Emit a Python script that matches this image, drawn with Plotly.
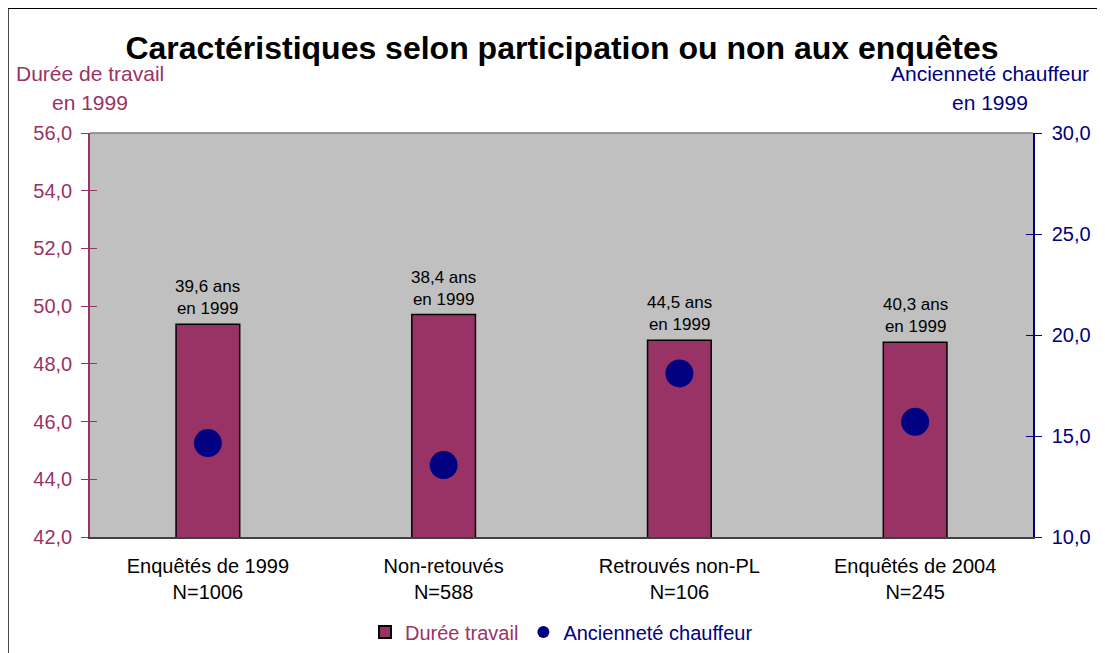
import plotly.graph_objects as go

categories = ["Enquêtés de 1999<br>N=1006", "Non-retouvés<br>N=588", "Retrouvés non-PL<br>N=106", "Enquêtés de 2004<br>N=245"]
duree_travail = [49.37, 49.71, 48.82, 48.75]
anciennete = [14.65, 13.56, 18.1, 15.7]
age_labels = ["39,6 ans<br>en 1999", "38,4 ans<br>en 1999", "44,5 ans<br>en 1999", "40,3 ans<br>en 1999"]

MAROON = "#993366"
NAVY = "#000080"
FONT = "Liberation Sans, Arial, sans-serif"

fig = go.Figure()
fig.add_trace(go.Bar(
    x=categories, y=duree_travail, width=0.27,
    marker=dict(color=MAROON, line=dict(color="black", width=1.5)),
    name=f"<span style='color:{MAROON}'>Durée travail</span>",
    yaxis="y",
))
fig.add_trace(go.Scatter(
    x=categories, y=anciennete, mode="markers",
    marker=dict(color=NAVY, size=28),
    name=f"<span style='color:{NAVY}'>Ancienneté chauffeur</span>",
    yaxis="y2",
))
# invisible helper traces so the inner-tick overlay axes are drawn
fig.add_trace(go.Scatter(x=categories, y=duree_travail, yaxis="y3", mode="none",
                         showlegend=False, hoverinfo="skip"))
fig.add_trace(go.Scatter(x=categories, y=anciennete, yaxis="y4", mode="none",
                         showlegend=False, hoverinfo="skip"))

for c, v, t in zip(categories, duree_travail, age_labels):
    fig.add_annotation(x=c, y=v, xref="x", yref="y", text=t, showarrow=False,
                       yanchor="bottom", yshift=4, font=dict(size=17, color="black", family=FONT))

# axis titles
fig.add_annotation(x=0, y=1.1485, xref="paper", yref="paper", text="Durée de travail", showarrow=False,
                   xanchor="center", yanchor="middle", font=dict(size=21, color=MAROON, family=FONT))
fig.add_annotation(x=0, y=1.0767, xref="paper", yref="paper", text="en 1999", showarrow=False,
                   xanchor="center", yanchor="middle", font=dict(size=21, color=MAROON, family=FONT))
fig.add_annotation(x=0.954, y=1.1485, xref="paper", yref="paper", text="Ancienneté chauffeur", showarrow=False,
                   xanchor="center", yanchor="middle", font=dict(size=21, color=NAVY, family=FONT))
fig.add_annotation(x=0.954, y=1.0767, xref="paper", yref="paper", text="en 1999", showarrow=False,
                   xanchor="center", yanchor="middle", font=dict(size=21, color=NAVY, family=FONT))

# outer chart border and plot-area top edge
fig.add_shape(type="rect", xref="paper", yref="paper", x0=-0.087, y0=-0.4, x1=1.2, y1=1.309,
              line=dict(color="black", width=1.5), layer="above")
fig.add_shape(type="line", xref="paper", yref="paper", x0=0, y0=1, x1=1, y1=1,
              line=dict(color="#808080", width=1.5))

fig.update_layout(
    width=1097, height=645,
    margin=dict(l=82, r=72, t=125, b=116, autoexpand=False),
    paper_bgcolor="white", plot_bgcolor="#C0C0C0",
    separators=", ",
    font=dict(family=FONT, color="black"),
    title=dict(text="<b>Caractéristiques selon participation ou non aux enquêtes</b>",
               x=0.505, xanchor="center", y=0.938, yanchor="middle",
               font=dict(size=32, color="black", family=FONT)),
    showlegend=True,
    legend=dict(orientation="h", x=0.5, xanchor="center", y=-0.235, yanchor="middle",
                font=dict(size=20, family=FONT), bgcolor="rgba(0,0,0,0)",
                itemwidth=30, tracegroupgap=0, itemsizing="constant"),
    xaxis=dict(showgrid=False, showline=True, linecolor="#404040", linewidth=1.5, automargin=False,
               tickfont=dict(size=20, color="black", family=FONT), ticks="", zeroline=False,
               ticklabelstandoff=10),
    yaxis=dict(range=[42, 56], dtick=2, tickformat=".1f", showgrid=False, zeroline=False, automargin=False,
               showline=True, linecolor=MAROON, linewidth=1.5, ticks="outside", ticklen=7,
               tickcolor=MAROON, tickfont=dict(size=20, color=MAROON, family=FONT),
               ticklabelstandoff=5),
    yaxis2=dict(range=[10, 30], dtick=5, tickformat=".1f", overlaying="y", side="right", automargin=False,
                showgrid=False, zeroline=False, showline=True, linecolor=NAVY, linewidth=1.5,
                ticks="outside", ticklen=7, tickcolor=NAVY,
                tickfont=dict(size=20, color=NAVY, family=FONT), ticklabelstandoff=6),
    yaxis3=dict(range=[42, 56], dtick=2, overlaying="y", side="left", automargin=False,
                showgrid=False, zeroline=False, showline=False, showticklabels=False,
                ticks="inside", ticklen=7, tickcolor=MAROON),
    yaxis4=dict(range=[10, 30], dtick=5, overlaying="y", side="right", automargin=False,
                showgrid=False, zeroline=False, showline=False, showticklabels=False,
                ticks="inside", ticklen=7, tickcolor=NAVY),
)

fig.write_html("out.html")
